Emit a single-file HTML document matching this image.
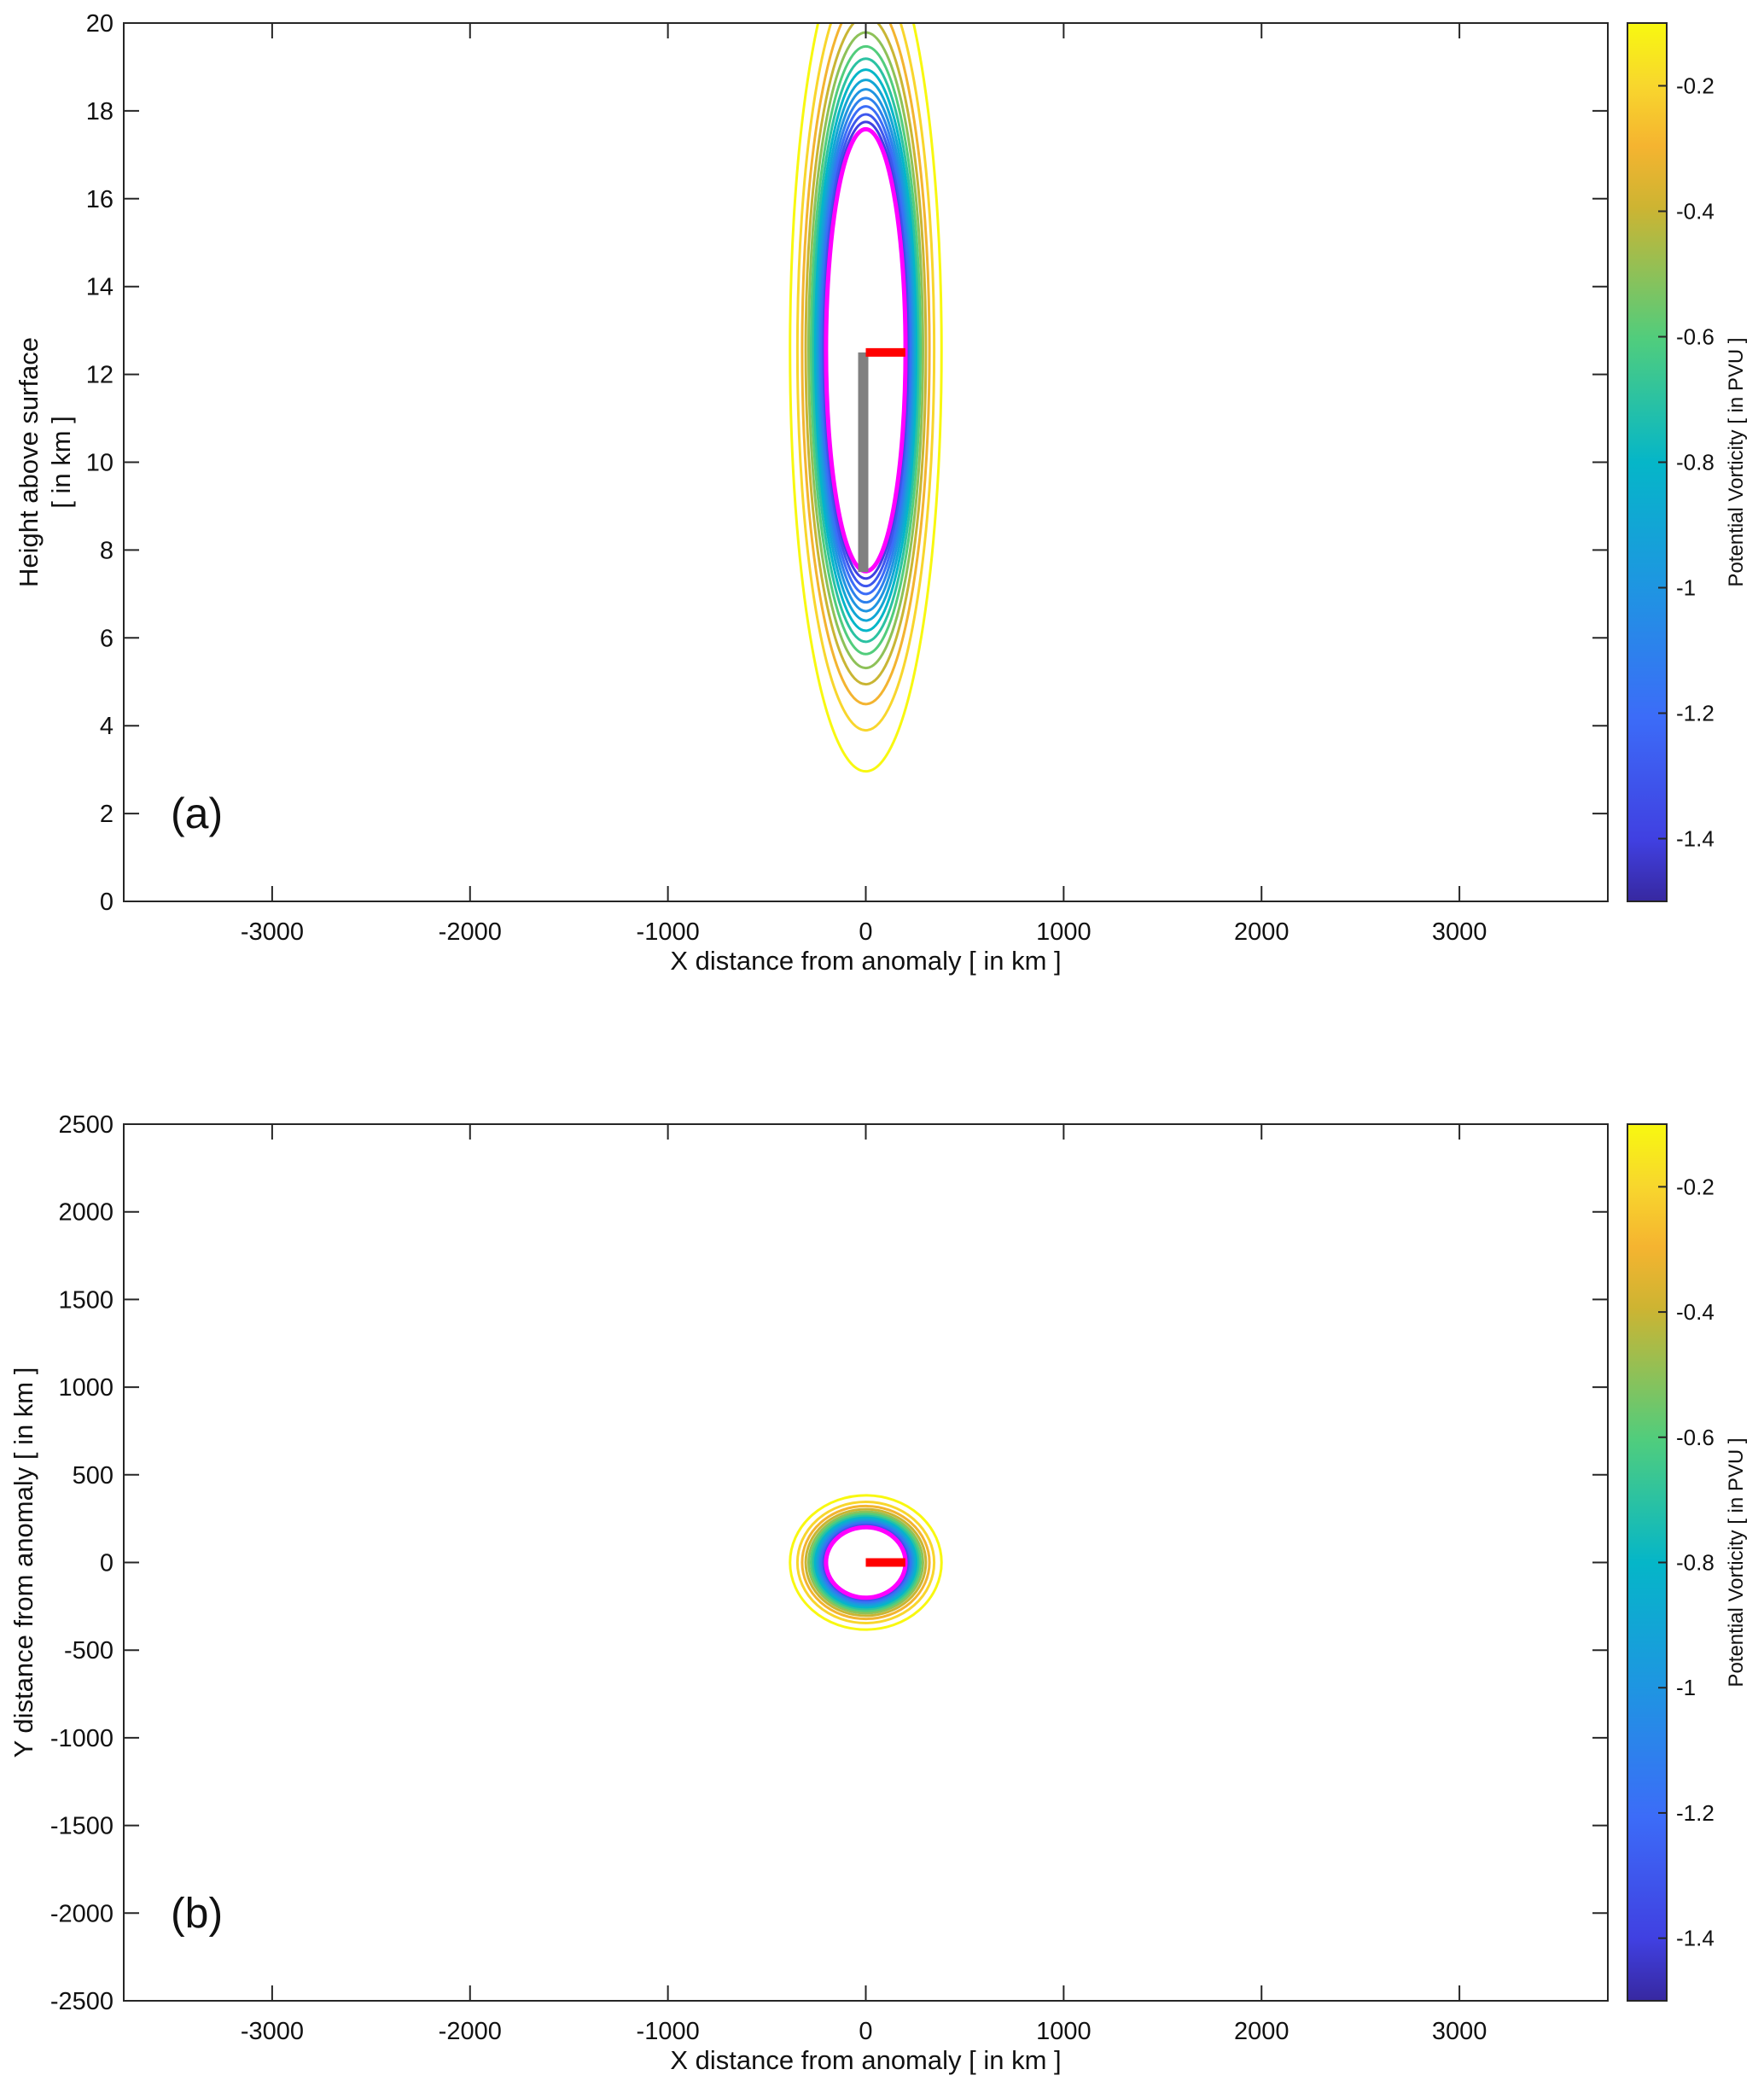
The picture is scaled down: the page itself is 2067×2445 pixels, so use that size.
<!DOCTYPE html>
<html><head><meta charset="utf-8">
<style>
html,body{margin:0;padding:0;background:#fff;}
svg{display:block;font-family:"Liberation Sans",Arial,sans-serif;}
</style></head>
<body>
<svg id="fig" width="2067" height="2445" viewBox="0 0 2067 2445" xmlns="http://www.w3.org/2000/svg"></svg>
<script>
// ---- data ----
const levels = [-0.1,-0.2,-0.3,-0.4,-0.5,-0.6,-0.7,-0.8,-0.9,-1.0,-1.1,-1.2,-1.3,-1.4];
const innerLevel = -1.5;
const peakPV = -4.2;          // PV amplitude of anomaly
const scaleX = 198;           // km horizontal e-folding scale
const scaleZ = 4.96;          // km vertical e-folding scale
const centerZ = 12.55;        // km
const xTicks = [-3000,-2000,-1000,0,1000,2000,3000];
const zTicks = [0,2,4,6,8,10,12,14,16,18,20];
const yTicks = [-2500,-2000,-1500,-1000,-500,0,500,1000,1500,2000,2500];
const cbTicks = [-1.4,-1.2,-1,-0.8,-0.6,-0.4,-0.2];
const towerZ = [7.5,12.5];
const windBar = [0,200];

const svg = document.getElementById('fig');
const NS = 'http://www.w3.org/2000/svg';
function mk(tag, attrs, parent){
  const e = document.createElementNS(NS, tag);
  for (const k in attrs) e.setAttribute(k, attrs[k]);
  (parent||svg).appendChild(e);
  return e;
}
const parula = [[0,55,40,160],[0.07,64,64,225],[0.21,60,108,248],[0.36,30,150,225],[0.5,5,182,200],[0.64,80,205,125],[0.79,205,180,50],[0.86,245,180,48],[0.93,248,215,45],[1,248,248,16]];
function pcol(t){
  t=Math.max(0,Math.min(1,t));
  for(let i=1;i<parula.length;i++){
    if(t<=parula[i][0]){
      const a=parula[i-1],b=parula[i],f=(t-a[0])/(b[0]-a[0]);
      return 'rgb('+[1,2,3].map(j=>Math.round(a[j]+f*(b[j]-a[j]))).join(',')+')';
    }
  }
  return 'rgb(248,248,16)';
}
const cbMin=-1.5, cbMax=-0.1;
function levelColor(L){ return pcol((L-cbMin)/(cbMax-cbMin)); }
function radiusFactor(L){ return Math.sqrt(Math.log(peakPV/L)); }

const X0=145, X1=1884, xmin=-3750, xmax=3750;
const sx = v => X0 + (v-xmin)/(xmax-xmin)*(X1-X0);

function panel(id, top, bottom, ymin, ymax, yTickArr, yLabelLines, letter, isVertical){
  const sy = v => bottom - (v-ymin)/(ymax-ymin)*(bottom-top);
  const g = mk('g',{});
  
  
  const clip = mk('clipPath',{id:'clip'+id}, g);
  mk('rect',{x:X0,y:top,width:X1-X0,height:bottom-top},clip);
  const plot = mk('g',{'clip-path':'url(#clip'+id+')'}, g);
  
  
  const allLev = levels.concat([innerLevel]);
  allLev.forEach((L,i)=>{
    const f = radiusFactor(L);
    const rx = Math.abs(sx(scaleX*f)-sx(0));
    let ry, cy;
    if(isVertical){ ry = Math.abs(sy(scaleZ*f)-sy(0)); cy = sy(centerZ); }
    else { ry = Math.abs(sy(scaleX*f)-sy(0)); cy = sy(0); }
    const inner = (L===innerLevel);
    const e = mk('ellipse',{cx:sx(0),cy:cy,rx:rx,ry:ry,fill:'none',
      stroke: inner?'#ff00ff':levelColor(L),'stroke-width':inner?5:3}, plot);
    
    
  });
  if(isVertical){
    const t = mk('rect',{x:sx(0)-9,y:sy(towerZ[1]),width:12,height:sy(towerZ[0])-sy(towerZ[1]),fill:'#808080'}, plot);
    
    
  }
  const ry0 = isVertical ? sy(centerZ-0.05) : sy(0);
  const r = mk('rect',{x:sx(windBar[0]),y:ry0-5,width:sx(windBar[1])-sx(windBar[0]),height:10,fill:'#ff0000'}, plot);
  
  
  const fr = mk('rect',{x:X0,y:top,width:X1-X0,height:bottom-top,fill:'none',stroke:'#262626','stroke-width':2}, g);
  
  
  xTicks.forEach(v=>{
    const x=sx(v);
    mk('line',{x1:x,x2:x,y1:bottom,y2:bottom-18,stroke:'#262626','stroke-width':2},g);
    mk('line',{x1:x,x2:x,y1:top,y2:top+18,stroke:'#262626','stroke-width':2},g);
    const t=mk('text',{x:x,y:bottom+45,'font-size':29,'text-anchor':'middle',fill:'#111'},g);
    t.textContent=v;
    
    
  });
  yTickArr.forEach(v=>{
    const y=sy(v);
    mk('line',{x1:X0,x2:X0+18,y1:y,y2:y,stroke:'#262626','stroke-width':2},g);
    mk('line',{x1:X1,x2:X1-18,y1:y,y2:y,stroke:'#262626','stroke-width':2},g);
    const t=mk('text',{x:133,y:y+10,'font-size':29,'text-anchor':'end',fill:'#111'},g);
    t.textContent=v;
    
    
  });
  const xl=mk('text',{x:sx(0),y:bottom+80,'font-size':31,'text-anchor':'middle',fill:'#111'},g);
  xl.textContent='X distance from anomaly [ in km ]';
  
  
  const cyl=(top+bottom)/2;
  yLabelLines.forEach((s,i)=>{
    const xx = yLabelLines.length===1 ? 38 : 44+i*38;
    const t=mk('text',{x:xx,y:cyl,'font-size':31,'text-anchor':'middle',fill:'#111',transform:'rotate(-90 '+xx+' '+cyl+')'},g);
    t.textContent=s;
    
    
  });
  const pl=mk('text',{x:200,y:sy(isVertical?2:-2000)+17,'font-size':50,fill:'#111'},g);
  pl.textContent=letter;
  
  
  const CX0=1907, CX1=1953;
  const cs = v => bottom - (v-cbMin)/(cbMax-cbMin)*(bottom-top);
  const grad = mk('linearGradient',{id:'grad'+id,x1:0,y1:1,x2:0,y2:0}, g);
  parula.forEach(p=>mk('stop',{offset:p[0],'stop-color':pcol(p[0])},grad));
  const cb=mk('rect',{x:CX0,y:top,width:CX1-CX0,height:bottom-top,fill:'url(#grad'+id+')',stroke:'#262626','stroke-width':2},g);
  
  
  cbTicks.forEach(v=>{
    const y=cs(v);
    mk('line',{x1:CX1,x2:CX1-10,y1:y,y2:y,stroke:'#262626','stroke-width':2},g);
    const t=mk('text',{x:1964,y:y+9,'font-size':26,fill:'#111'},g);
    t.textContent=v;
    
    
  });
  const cx=2042;
  const ct=mk('text',{x:cx,y:cyl,'font-size':24,'text-anchor':'middle',fill:'#111',transform:'rotate(-90 '+cx+' '+cyl+')'},g);
  ct.textContent='Potential Vorticity [ in PVU ]';
  
  
}
panel('a',27,1056,0,20,zTicks,['Height above surface','[ in km ]'],'(a)',true);
panel('b',1317,2344,-2500,2500,yTicks,['Y distance from anomaly [ in km ]'],'(b)',false);
</script>
</body></html>
